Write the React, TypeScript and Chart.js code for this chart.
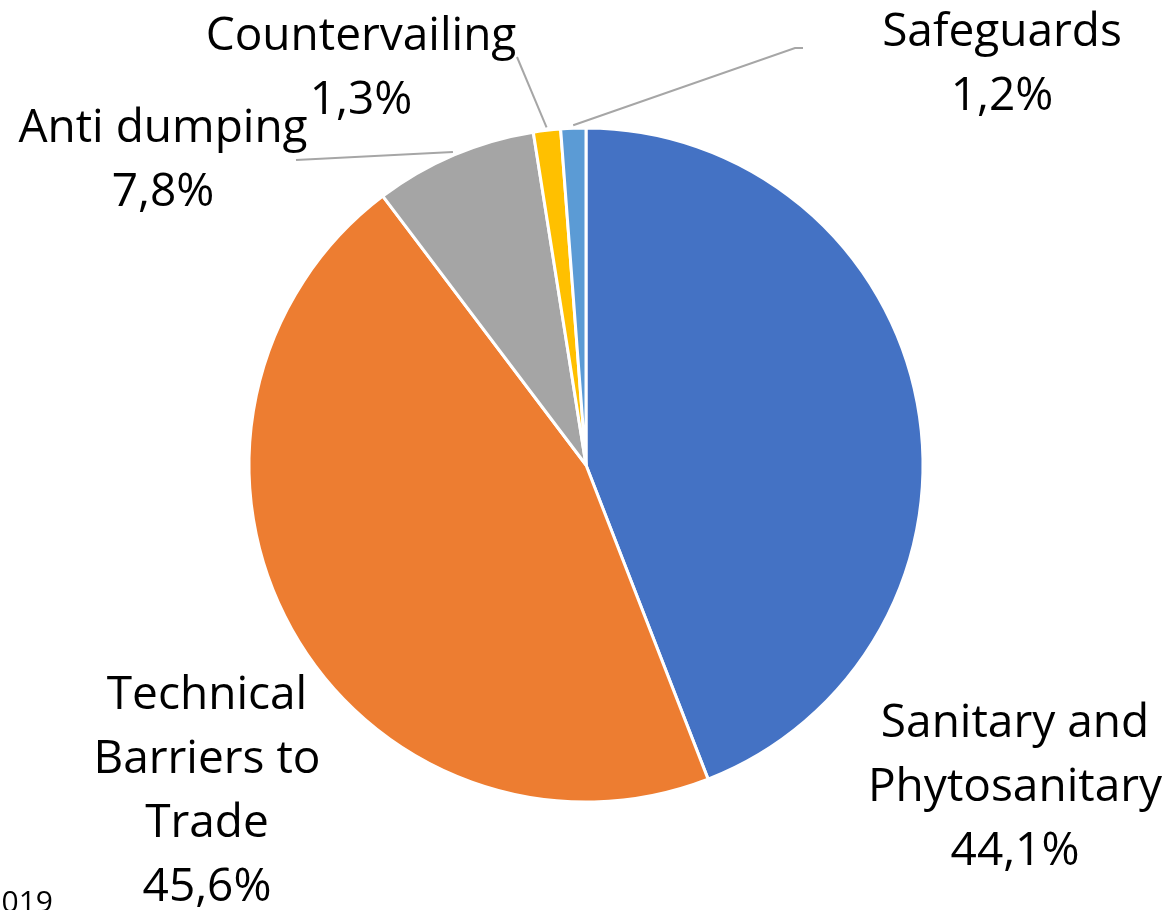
import React, { useEffect, useRef } from "react";
import { Chart, registerables } from "chart.js";

Chart.register(...registerables);

const categories = [
  "Sanitary and Phytosanitary",
  "Technical Barriers to Trade",
  "Anti dumping",
  "Countervailing",
  "Safeguards",
];
const shares = [44.1, 45.6, 7.8, 1.3, 1.2];
const colors = ["#4472C4", "#ED7D31", "#A5A5A5", "#FFC000", "#5B9BD5"];
const footnote = "2019";

const FONT = "46px 'Open Sans', 'Liberation Sans', sans-serif";
const LINE_H = 64;

// label layout: centre x, first baseline, wrap width, leader-line path (or null)
const labelLayout = [
  { x: 1015, y: 737, wrap: 310, leader: null as null | number[][] },
  { x: 207, y: 709, wrap: 240, leader: null as null | number[][] },
  { x: 163, y: 142, wrap: 400, leader: [[296, 160]] },
  { x: 361, y: 50, wrap: 400, leader: [[517, 57]] },
  { x: 1002, y: 46, wrap: 400, leader: [[795, 48], [803, 48]] },
];

function wrapText(ctx: CanvasRenderingContext2D, text: string, maxW: number): string[] {
  const words = text.split(" ");
  const lines: string[] = [];
  let cur = "";
  for (const w of words) {
    const test = cur ? cur + " " + w : w;
    if (cur && ctx.measureText(test).width > maxW) {
      lines.push(cur);
      cur = w;
    } else {
      cur = test;
    }
  }
  if (cur) lines.push(cur);
  return lines;
}

const labelPlugin = {
  id: "pieLabels",
  afterDraw(chart: any) {
    const ctx: CanvasRenderingContext2D = chart.ctx;
    const meta = chart.getDatasetMeta(0);
    ctx.save();
    ctx.font = FONT;
    ctx.fillStyle = "#000000";
    ctx.textAlign = "center";
    ctx.textBaseline = "alphabetic";
    meta.data.forEach((arc: any, i: number) => {
      const lay = labelLayout[i];
      if (lay.leader) {
        const mid = (arc.startAngle + arc.endAngle) / 2;
        const r = arc.outerRadius + 3;
        const sx = arc.x + Math.cos(mid) * r;
        const sy = arc.y + Math.sin(mid) * r;
        ctx.beginPath();
        ctx.strokeStyle = "#A6A6A6";
        ctx.lineWidth = 2;
        ctx.moveTo(sx, sy);
        lay.leader.forEach((p) => ctx.lineTo(p[0], p[1]));
        ctx.stroke();
      }
      const lines = wrapText(ctx, categories[i], lay.wrap);
      lines.push(shares[i].toFixed(1).replace(".", ",") + "%");
      lines.forEach((ln, k) => {
        ctx.fillText(ln, lay.x, lay.y + k * LINE_H);
      });
    });
    ctx.font = "30px 'Open Sans', 'Liberation Sans', sans-serif";
    ctx.textAlign = "right";
    ctx.fillText(footnote, 53, 912);
    ctx.restore();
  },
};

export default function App() {
  const ref = useRef<HTMLCanvasElement>(null);
  useEffect(() => {
    if (!ref.current) return;
    const chart = new Chart(ref.current, {
      type: "pie",
      data: {
        labels: categories,
        datasets: [
          {
            data: shares,
            backgroundColor: colors,
            borderColor: "#FFFFFF",
            borderWidth: 3,
          },
        ],
      },
      options: {
        responsive: false,
        animation: false,
        radius: 337,
        layout: { padding: { left: 251, right: 250, top: 130, bottom: 110 } },
        plugins: {
          legend: { display: false },
          tooltip: { enabled: false },
        },
      } as any,
      plugins: [labelPlugin],
    });
    return () => chart.destroy();
  }, []);
  return (
    <div style={{ position: "absolute", left: 0, top: 0, width: 1171, height: 910, background: "#fff", overflow: "hidden" }}>
      <canvas ref={ref} width={1171} height={910} />
    </div>
  );
}
